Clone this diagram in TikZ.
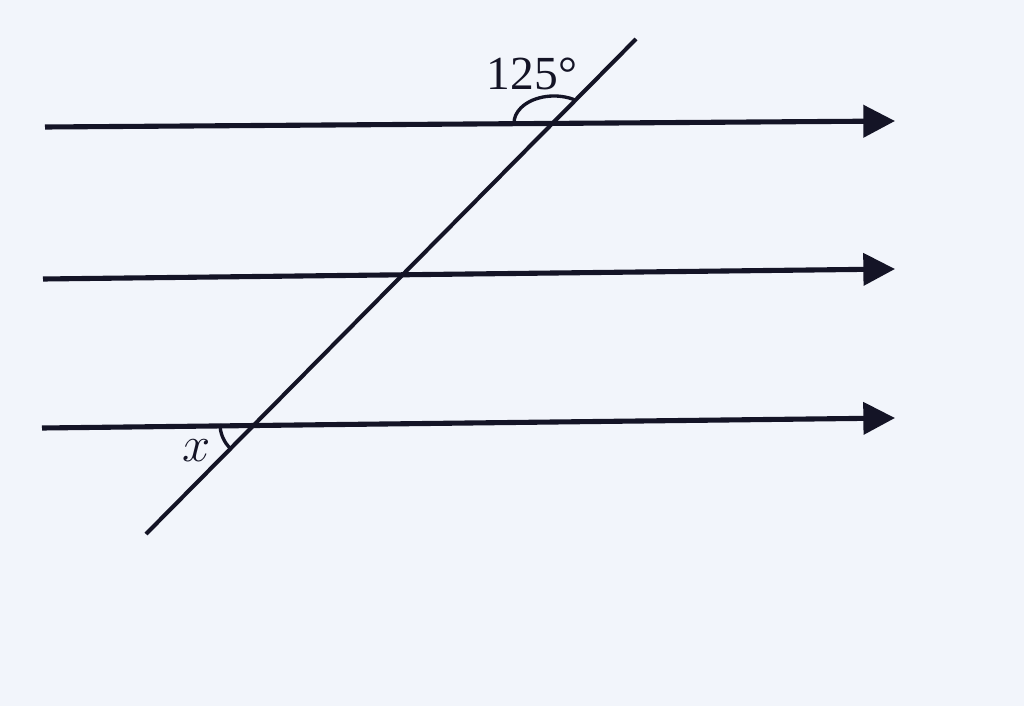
\documentclass[tikz,border=0pt]{standalone}
\usepackage{fontspec}
\setmainfont{Liberation Serif}
\usetikzlibrary{arrows.meta}
\definecolor{ink}{RGB}{20,20,38}
\definecolor{paper}{RGB}{242,245,251}
\begin{document}
\begin{tikzpicture}[x=0.01cm,y=-0.01cm,
  parline/.style={draw=ink,line width=1.45pt,-{Triangle[length=9pt,width=9pt]}},
  transline/.style={draw=ink,line width=1.15pt},
  anglemark/.style={draw=ink,line width=0.95pt},
  lbl/.style={text=ink,font=\fontsize{13.5}{16}\selectfont,inner sep=0pt}]
\fill[paper] (0,0) rectangle (1024,706);
\useasboundingbox (0,0) rectangle (1024,706);
\coordinate (A1) at (45,127); \coordinate (A2) at (895,121);
\coordinate (B1) at (43,279); \coordinate (B2) at (895,269);
\coordinate (C1) at (42,428); \coordinate (C2) at (895,418);
\coordinate (T1) at (146,534); \coordinate (T2) at (636,39);
\coordinate (P) at (554,123);
\coordinate (Q) at (254,424);
\draw[parline] (A1) -- (A2);
\draw[parline] (B1) -- (B2);
\draw[parline] (C1) -- (C2);
\draw[transline] (T1) -- (T2);
\draw[anglemark] (P) ++(22.4,-22.4) arc[start angle=-56,end angle=-180,x radius=40,y radius=27];
\draw[anglemark] (Q) ++(-34,0) arc[start angle=180,end angle=133,radius=34];
\node[lbl] (ang) at (532,74) {125°};
\node[lbl] (xl) at (197,451) {$x$};
\end{tikzpicture}
\end{document}
